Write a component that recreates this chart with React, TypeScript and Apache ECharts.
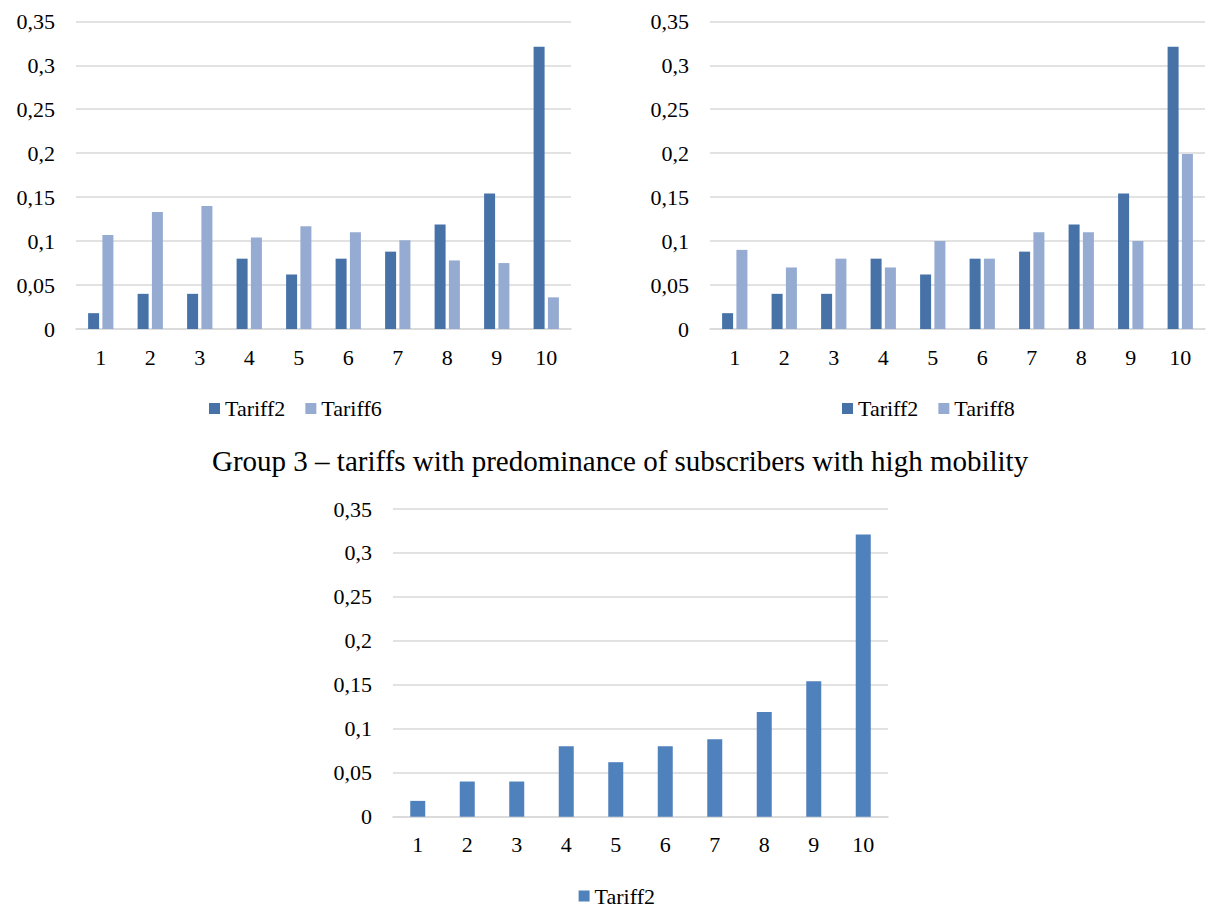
import React, { useEffect, useRef } from "react";
import * as echarts from "echarts";

// Deciles of subscribers and tariff shares
const categories = ["1", "2", "3", "4", "5", "6", "7", "8", "9", "10"];
const tariff2 = [0.018, 0.04, 0.04, 0.08, 0.062, 0.08, 0.088, 0.119, 0.154, 0.321];
const tariff6 = [0.107, 0.133, 0.14, 0.104, 0.117, 0.11, 0.101, 0.078, 0.075, 0.036];
const tariff8 = [0.09, 0.07, 0.08, 0.07, 0.1, 0.08, 0.11, 0.11, 0.1, 0.199];

const groupTitle = "Group 3 \u2013 tariffs with predominance of subscribers with high mobility";

const FONT = "Times New Roman";
const TEXT = "#000";
const DARK = "#4672A8";
const LIGHT = "#95ABD2";
const MID = "#4F81BD";
const GRID = "#D9D9D9";
const LABEL_SIZE = 22;

const yAxisFor = (gridIndex: number) => ({
  type: "value",
  gridIndex,
  min: 0,
  max: 0.35,
  interval: 0.05,
  axisLine: { show: false },
  axisTick: { show: false },
  splitLine: { lineStyle: { color: GRID, width: 1.6 } },
  axisLabel: {
    margin: 21,
    color: TEXT,
    fontFamily: FONT,
    fontSize: LABEL_SIZE,
    formatter: (v: number) => String(parseFloat(v.toFixed(2))).replace(".", ","),
  },
});

const xAxisFor = (gridIndex: number) => ({
  type: "category",
  gridIndex,
  data: categories,
  axisLine: { lineStyle: { color: GRID, width: 1.6 } },
  axisTick: { show: false },
  axisLabel: { margin: 17, color: TEXT, fontFamily: FONT, fontSize: LABEL_SIZE },
});

const legendFor = (left: number, top: number, items: { name: string; color: string }[]) => ({
  left,
  top,
  padding: 0,
  orient: "horizontal",
  icon: "rect",
  itemWidth: 11,
  itemHeight: 11,
  itemGap: 20,
  textStyle: { color: TEXT, fontFamily: FONT, fontSize: LABEL_SIZE },
  data: items.map((it) => ({ name: it.name, itemStyle: { color: it.color } })),
  selectedMode: false,
});

export default function App() {
  const ref = useRef<HTMLDivElement | null>(null);

  useEffect(() => {
    if (!ref.current) return;
    const chart = echarts.init(ref.current, undefined, { renderer: "svg" });
    chart.setOption({
      animation: false,
      textStyle: { fontFamily: FONT, color: TEXT },
      title: {
        text: groupTitle,
        left: 207,
        top: 441,
        textStyle: { color: TEXT, fontFamily: FONT, fontSize: 29, fontWeight: "normal" },
      },
      grid: [
        { left: 76, top: 21.3, width: 495, height: 307.7 },
        { left: 710, top: 21.3, width: 495, height: 307.7 },
        { left: 393, top: 509, width: 495, height: 307.7 },
      ],
      xAxis: [xAxisFor(0), xAxisFor(1), xAxisFor(2)],
      yAxis: [yAxisFor(0), yAxisFor(1), yAxisFor(2)],
      legend: [
        legendFor(209, 397.5, [
          { name: "Tariff2", color: DARK },
          { name: "Tariff6", color: LIGHT },
        ]),
        legendFor(842, 397.5, [
          { name: "Tariff2", color: DARK },
          { name: "Tariff8", color: LIGHT },
        ]),
        legendFor(578.6, 885, [{ name: "Tariff2", color: MID }]),
      ],
      series: [
        {
          name: "Tariff2",
          type: "bar",
          xAxisIndex: 0,
          yAxisIndex: 0,
          data: tariff2,
          barWidth: 11,
          barGap: "30%",
          itemStyle: { color: DARK },
        },
        {
          name: "Tariff6",
          type: "bar",
          xAxisIndex: 0,
          yAxisIndex: 0,
          data: tariff6,
          barWidth: 11,
          barGap: "30%",
          itemStyle: { color: LIGHT },
        },
        {
          name: "Tariff2",
          type: "bar",
          xAxisIndex: 1,
          yAxisIndex: 1,
          data: tariff2,
          barWidth: 11,
          barGap: "30%",
          itemStyle: { color: DARK },
        },
        {
          name: "Tariff8",
          type: "bar",
          xAxisIndex: 1,
          yAxisIndex: 1,
          data: tariff8,
          barWidth: 11,
          barGap: "30%",
          itemStyle: { color: LIGHT },
        },
        {
          name: "Tariff2",
          type: "bar",
          xAxisIndex: 2,
          yAxisIndex: 2,
          data: tariff2,
          barWidth: 15,
          itemStyle: { color: MID },
        },
      ],
    });
    return () => chart.dispose();
  }, []);

  return <div ref={ref} style={{ position: "absolute", left: 0, top: 0, width: 1214, height: 910 }} />;
}
